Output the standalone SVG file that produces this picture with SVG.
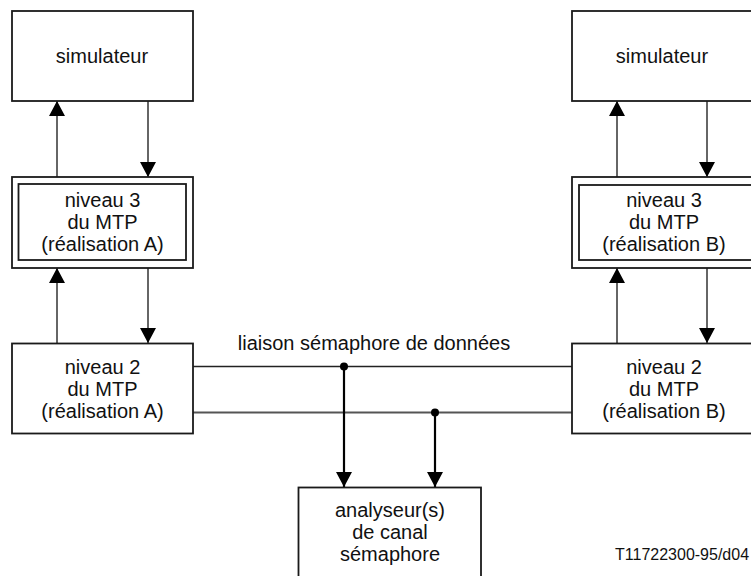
<svg xmlns="http://www.w3.org/2000/svg" width="751" height="576" viewBox="0 0 751 576">
<defs>
<style>
.box{fill:#fff;stroke:#1a1a1a;stroke-width:1.8}
.t{font-family:"Liberation Sans",Arial,sans-serif;font-size:20px;fill:#111;text-anchor:middle}
.ln{fill:none;stroke:#333;stroke-width:1.5}
.thick{fill:none;stroke:#000;stroke-width:2.2}
</style>
<marker id="ah" markerUnits="userSpaceOnUse" markerWidth="16" markerHeight="16" viewBox="0 0 16 16" refX="15" refY="8" orient="auto">
<path d="M0,0 L15,8 L0,16 Z" fill="#000"/>
</marker>
</defs>
<rect width="751" height="576" fill="#fff"/>
<g id="connectors">
<line class="ln" x1="57" y1="177" x2="57" y2="101" marker-end="url(#ah)"/>
<line class="ln" x1="148" y1="101" x2="148" y2="177" marker-end="url(#ah)"/>
<line class="ln" x1="57" y1="343" x2="57" y2="268" marker-end="url(#ah)"/>
<line class="ln" x1="148" y1="268" x2="148" y2="343" marker-end="url(#ah)"/>
<line class="ln" x1="617" y1="177" x2="617" y2="101" marker-end="url(#ah)"/>
<line class="ln" x1="707" y1="101" x2="707" y2="177" marker-end="url(#ah)"/>
<line class="ln" x1="617" y1="343" x2="617" y2="268" marker-end="url(#ah)"/>
<line class="ln" x1="707" y1="268" x2="707" y2="343" marker-end="url(#ah)"/>
<line class="ln" x1="193" y1="366.5" x2="572" y2="366.5" style="stroke:#222"/>
<line class="ln" x1="193" y1="412.5" x2="572" y2="412.5" style="stroke:#555;stroke-width:1.8"/>
<line class="thick" x1="344" y1="366.5" x2="344" y2="487" marker-end="url(#ah)"/>
<line class="thick" x1="435" y1="412.5" x2="435" y2="487" marker-end="url(#ah)"/>
<circle cx="344" cy="366.5" r="4" fill="#000"/>
<circle cx="435" cy="412.5" r="4" fill="#000"/>
<text class="t" x="374" y="350">liaison sémaphore de données</text>
</g>
<g id="sim-a">
<rect class="box" x="12" y="11" width="181" height="90"/>
<text class="t" x="102" y="63">simulateur</text>
</g>
<g id="n3-a">
<rect class="box" x="12" y="177" width="181" height="91"/>
<rect class="box" x="18.5" y="184" width="167.5" height="76"/>
<text class="t" x="102.5" y="207">niveau 3</text>
<text class="t" x="102.5" y="229">du MTP</text>
<text class="t" x="102.5" y="251">(réalisation A)</text>
</g>
<g id="n2-a">
<rect class="box" x="12" y="343.5" width="181" height="90"/>
<text class="t" x="102.5" y="374">niveau 2</text>
<text class="t" x="102.5" y="396">du MTP</text>
<text class="t" x="102.5" y="418">(réalisation A)</text>
</g>
<g id="sim-b">
<rect class="box" x="572" y="11" width="185" height="90"/>
<text class="t" x="662" y="63">simulateur</text>
</g>
<g id="n3-b">
<rect class="box" x="572" y="177" width="190" height="91"/>
<rect class="box" x="579" y="185" width="176" height="75"/>
<text class="t" x="664" y="207">niveau 3</text>
<text class="t" x="664" y="229">du MTP</text>
<text class="t" x="664" y="251">(réalisation B)</text>
</g>
<g id="n2-b">
<rect class="box" x="572" y="343.5" width="185" height="90"/>
<text class="t" x="664" y="374">niveau 2</text>
<text class="t" x="664" y="396">du MTP</text>
<text class="t" x="664" y="418">(réalisation B)</text>
</g>
<g id="analyseur">
<rect class="box" x="298.5" y="487.5" width="182.5" height="100"/>
<text class="t" x="390" y="517">analyseur(s)</text>
<text class="t" x="390" y="539">de canal</text>
<text class="t" x="390" y="561">sémaphore</text>
</g>
<text x="615" y="560" style="font-family:'Liberation Sans',Arial,sans-serif;font-size:16px;fill:#111">T11722300-95/d04</text>
</svg>
